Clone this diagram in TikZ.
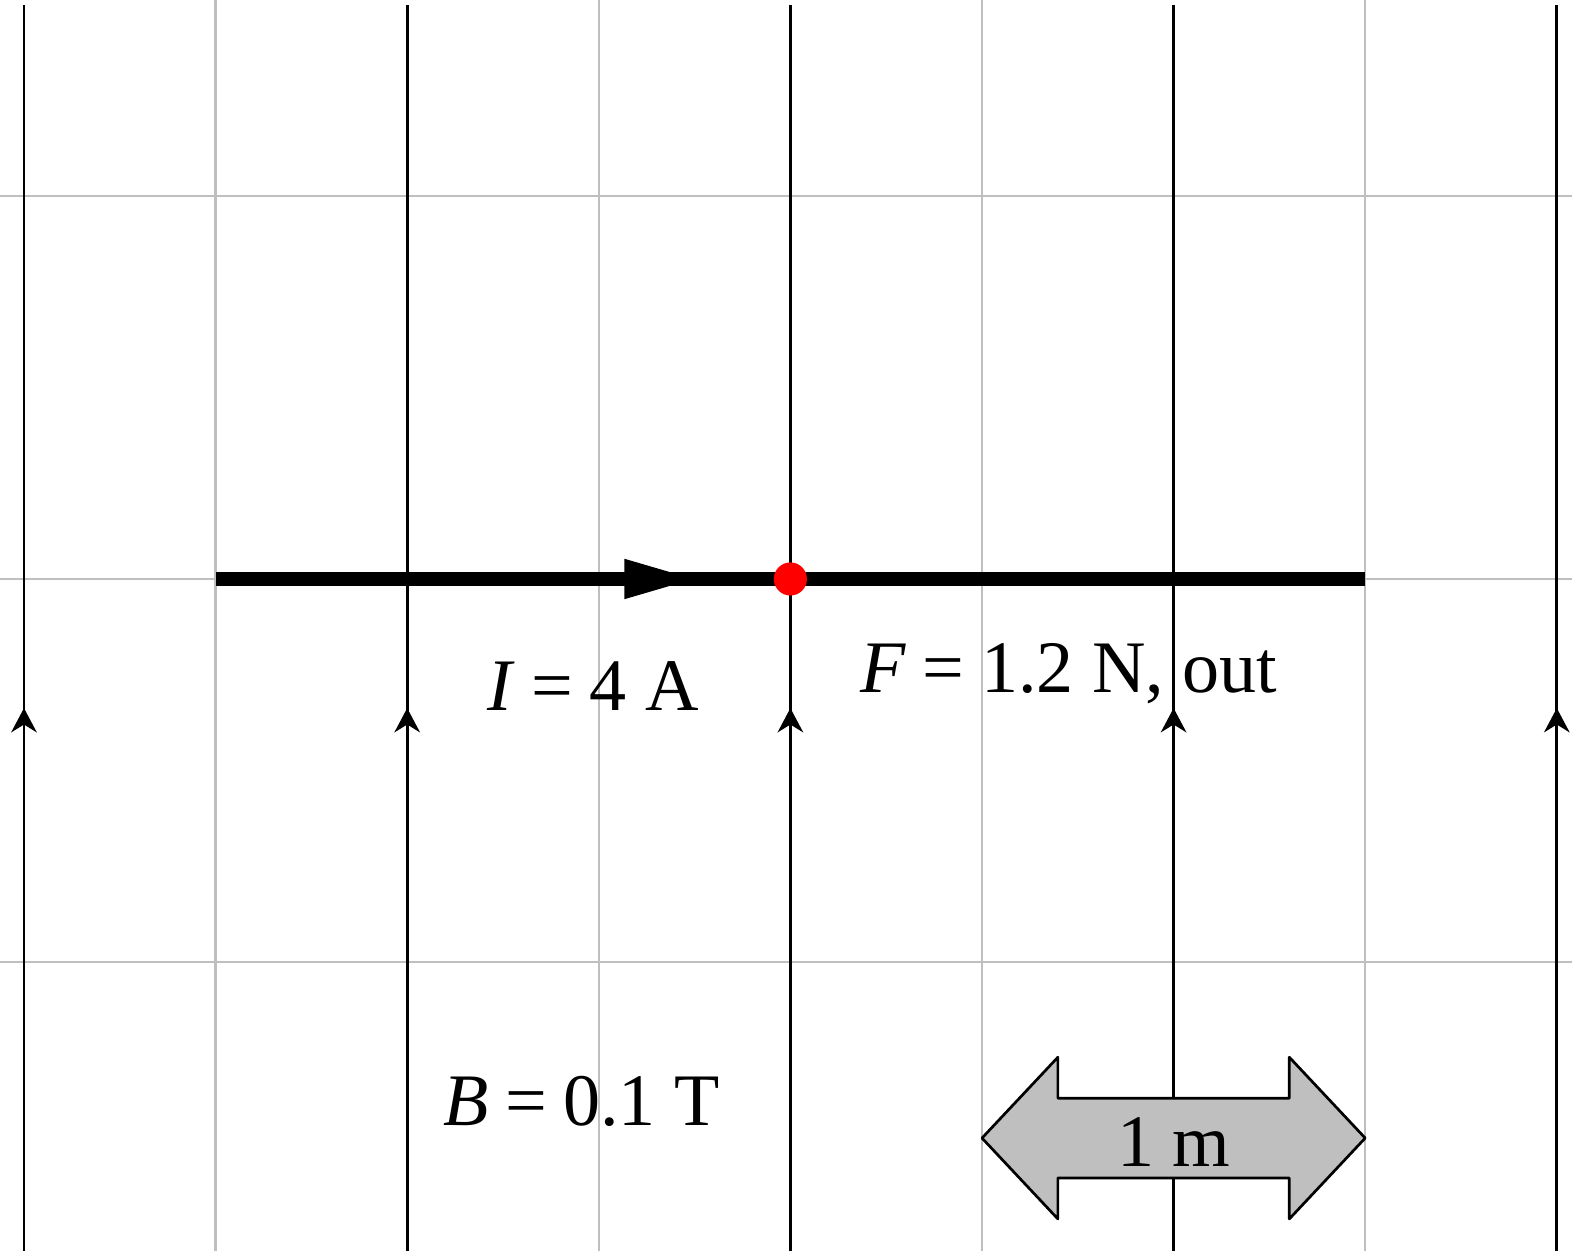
\documentclass[tikz,border=0pt]{standalone}
\usepackage{fontspec}
\setmainfont{Liberation Serif}
\usetikzlibrary{arrows.meta}

\begin{document}
\begin{tikzpicture}[scale=2,>=Stealth,line join=round,font=\fontsize{11}{13}\selectfont]
  \useasboundingbox (-0.0626,-1.7537) rectangle (4.0397,1.5110);
  \coordinate (W0) at (0.500,0.000);
  \coordinate (W1) at (3.500,0.000);
  \coordinate (Q) at (2.000,0.000);
  \coordinate (IA) at (1.250,0.000);
  \coordinate (IB) at (1.760,0.000);
  % grid
  \draw[gray!50,line width=0.35pt] (0.500,-1.7537) -- (0.500,1.5110);
  \draw[gray!50,line width=0.35pt] (1.500,-1.7537) -- (1.500,1.5110);
  \draw[gray!50,line width=0.35pt] (2.500,-1.7537) -- (2.500,1.5110);
  \draw[gray!50,line width=0.35pt] (3.500,-1.7537) -- (3.500,1.5110);
  \draw[gray!50,line width=0.35pt] (-0.0626,1.000) -- (4.0397,1.000);
  \draw[gray!50,line width=0.35pt] (-0.0626,0.000) -- (4.0397,0.000);
  \draw[gray!50,line width=0.35pt] (-0.0626,-1.000) -- (4.0397,-1.000);
  % field lines
  \draw[line width=0.4pt] (0.000,1.498) -- (0.000,-1.7537);
  \draw[line width=0.4pt] (1.000,1.498) -- (1.000,-1.7537);
  \draw[line width=0.4pt] (2.000,1.498) -- (2.000,-1.7537);
  \draw[line width=0.4pt] (3.000,1.498) -- (3.000,-1.7537);
  \draw[line width=0.4pt] (4.000,1.498) -- (4.000,-1.7537);
  \draw[-{Stealth[length=3.6pt,width=3.8pt]},line width=0.4pt] (0.000,-0.791) -- (0.000,-0.337);
  \draw[-{Stealth[length=3.6pt,width=3.8pt]},line width=0.4pt] (1.000,-0.791) -- (1.000,-0.337);
  \draw[-{Stealth[length=3.6pt,width=3.8pt]},line width=0.4pt] (2.000,-0.791) -- (2.000,-0.337);
  \draw[-{Stealth[length=3.6pt,width=3.8pt]},line width=0.4pt] (3.000,-0.791) -- (3.000,-0.337);
  \draw[-{Stealth[length=3.6pt,width=3.8pt]},line width=0.4pt] (4.000,-0.791) -- (4.000,-0.337);
  % wire
  \draw[line width=2.1pt] (W0) -- (W1);
  \draw[-{Triangle[length=11pt,width=5.3pt]},line width=2.1pt] (IA) -- (IB);
  \fill[red] (Q) circle (1.23pt);
  % scale arrow
  \draw[fill=gray!50,line width=0.4pt] (2.500,-1.459) -- (2.698,-1.248) -- (2.698,-1.355)
    -- (3.302,-1.355) -- (3.302,-1.248) -- (3.500,-1.459) -- (3.302,-1.670)
    -- (3.302,-1.563) -- (2.698,-1.563) -- (2.698,-1.670) -- cycle;
  % labels
  \node[anchor=base] (current) at (1.485,-0.342) {\textit{I}\:=\:4 A};
  \node[anchor=base] (force) at (2.727,-0.295) {\textit{F}\:=\:1.2 N, out};
  \node[anchor=base] (field) at (1.455,-1.425) {\textit{B}\:=\:0.1 T};
  \node[anchor=base] (metre) at (3.000,-1.534) {1 m};
\end{tikzpicture}
\end{document}
